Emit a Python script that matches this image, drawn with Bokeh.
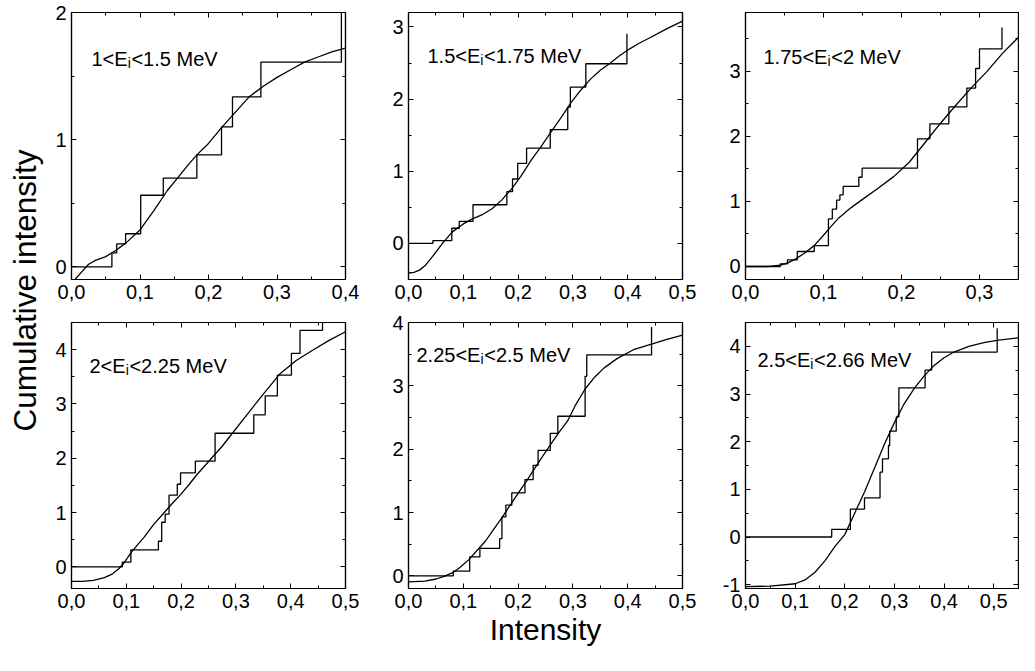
from math import pi
from bokeh.plotting import figure
from bokeh.layouts import row, column
from bokeh.models import (Range1d, SingleIntervalTicker, LinearAxis,
                          CustomJSTickFormatter, Label)
from bokeh.embed import file_html
from bokeh.resources import INLINE

FONT = "Liberation Sans"

# ---------------- data ----------------
titles_main = ["1<E", "1.5<E", "1.75<E", "2<E", "2.25<E", "2.5<E"]
titles_rest = ["<1.5 MeV", "<1.75 MeV", "<2 MeV", "<2.25 MeV", "<2.5 MeV", "<2.66 MeV"]

x_ranges = [(0, 0.4), (0, 0.5), (0, 0.35), (0, 0.5), (0, 0.5), (0, 0.55)]
y_ranges = [(-0.1, 2.0), (-0.5, 3.2), (-0.2, 3.9), (-0.4, 4.5), (-0.2, 4.0), (-1.08, 4.5)]

step1_x = [0, 0.059, 0.066, 0.079, 0.101, 0.134, 0.183, 0.219, 0.235, 0.2765, 0.394]
step1_y = [0, 0.11, 0.18, 0.26, 0.5625, 0.698, 0.88, 1.10, 1.336, 1.61, 2.05]
fit1_x = [0.005, 0.015, 0.025, 0.035, 0.05, 0.065, 0.08, 0.10, 0.12, 0.14, 0.155, 0.17,
          0.183, 0.20, 0.22, 0.24, 0.26, 0.28, 0.30, 0.32, 0.34, 0.36, 0.38, 0.40]
fit1_y = [-0.10, -0.04, 0.02, 0.05, 0.08, 0.13, 0.19, 0.29, 0.44, 0.60, 0.70, 0.80,
          0.88, 0.97, 1.10, 1.22, 1.34, 1.42, 1.49, 1.55, 1.61, 1.65, 1.69, 1.72]

step2_x = [0, 0.0445, 0.079, 0.0925, 0.1177, 0.1795, 0.1898, 0.1993, 0.2155, 0.2587,
           0.2906, 0.2954, 0.3236, 0.3986]
step2_y = [0, 0.04, 0.21, 0.305, 0.536, 0.717, 0.893, 1.11, 1.32, 1.578, 1.889, 2.167,
           2.49, 2.907]
fit2_x = [0, 0.01, 0.02, 0.03, 0.044, 0.062, 0.08, 0.1, 0.1165, 0.135, 0.1525, 0.17,
          0.1885, 0.205, 0.2245, 0.24, 0.2605, 0.28, 0.2965, 0.315, 0.3325, 0.35, 0.3685,
          0.385, 0.4045, 0.42, 0.4405, 0.47, 0.5]
fit2_y = [-0.41, -0.40, -0.37, -0.31, -0.18, 0.0, 0.16, 0.27, 0.34, 0.40, 0.48, 0.60,
          0.76, 0.93, 1.16, 1.32, 1.55, 1.76, 1.95, 2.13, 2.28, 2.40, 2.50, 2.60, 2.70,
          2.77, 2.85, 2.97, 3.08]

step3_x = [0, 0.0446, 0.0538, 0.0664, 0.0882, 0.1063, 0.1113, 0.1168, 0.121, 0.1252,
           0.1453, 0.1495, 0.2205, 0.2364, 0.2607, 0.2838, 0.295, 0.30, 0.3288]
step3_y = [0, 0.04, 0.1, 0.23, 0.32, 0.73, 0.88, 1.02, 1.1, 1.23, 1.37, 1.51, 1.96,
           2.19, 2.45, 2.74, 3.04, 3.34, 3.67]
fit3_x = [0, 0.03, 0.045, 0.055, 0.065, 0.075, 0.088, 0.1, 0.11, 0.12, 0.135, 0.15,
          0.17, 0.19, 0.21, 0.23, 0.25, 0.27, 0.29, 0.31, 0.33, 0.35]
fit3_y = [0, 0, 0.02, 0.06, 0.12, 0.2, 0.32, 0.48, 0.62, 0.75, 0.9, 1.03, 1.2, 1.38,
          1.6, 1.9, 2.2, 2.48, 2.75, 3.0, 3.28, 3.52]

step4_x = [0, 0.0928, 0.1083, 0.1586, 0.1646, 0.171, 0.178, 0.193, 0.199, 0.226, 0.262,
           0.3326, 0.3535, 0.3757, 0.4013, 0.417, 0.4581]
step4_y = [0, 0.085, 0.31, 0.47, 0.82, 0.97, 1.32, 1.52, 1.73, 1.945, 2.46, 2.80, 3.15,
           3.53, 3.93, 4.355, 4.7]
fit4_x = [0, 0.02, 0.04, 0.06, 0.075, 0.0856, 0.095, 0.1094, 0.12, 0.133, 0.15, 0.1693,
          0.185, 0.199, 0.215, 0.229, 0.245, 0.259, 0.275, 0.2889, 0.32, 0.35, 0.38, 0.41,
          0.44, 0.47, 0.5]
fit4_y = [-0.27, -0.27, -0.25, -0.2, -0.13, -0.04, 0.06, 0.27, 0.4, 0.55, 0.78, 1.0,
          1.18, 1.33, 1.52, 1.70, 1.88, 2.04, 2.22, 2.40, 2.8, 3.18, 3.55, 3.8, 3.99,
          4.17, 4.33]

step5_x = [0, 0.0817, 0.1117, 0.1303, 0.1663, 0.1705, 0.1777, 0.1885, 0.2125, 0.2275,
           0.2365, 0.2587, 0.2725, 0.3223, 0.3253, 0.4435]
step5_y = [0, 0.073, 0.298, 0.434, 0.586, 0.93, 1.115, 1.31, 1.52, 1.745, 1.98, 2.25,
           2.52, 3.15, 3.49, 3.93]
fit5_x = [0, 0.03, 0.0505, 0.065, 0.0806, 0.095, 0.1106, 0.125, 0.1406, 0.155, 0.1706,
          0.185, 0.2006, 0.215, 0.2306, 0.245, 0.2606, 0.275, 0.2906, 0.305, 0.3223,
          0.34, 0.3565, 0.3805, 0.4105, 0.4435, 0.47, 0.5]
fit5_y = [-0.094, -0.085, -0.05, -0.01, 0.05, 0.14, 0.26, 0.4, 0.55, 0.73, 0.92, 1.11,
          1.31, 1.49, 1.70, 1.89, 2.09, 2.27, 2.45, 2.70, 2.95, 3.14, 3.28, 3.43, 3.57,
          3.66, 3.73, 3.80]

step6_x = [0, 0.1737, 0.2113, 0.2397, 0.271, 0.276, 0.288, 0.2905, 0.3037, 0.309,
           0.3618, 0.375, 0.5071]
step6_y = [0, 0.16, 0.587, 0.82, 1.36, 1.64, 1.92, 2.22, 2.52, 3.13, 3.5, 3.88, 4.38]
fit6_x = [0, 0.05, 0.1, 0.12, 0.14, 0.16, 0.18, 0.2, 0.22, 0.24, 0.26, 0.28, 0.3, 0.32,
          0.34, 0.36, 0.38, 0.40, 0.42, 0.45, 0.48, 0.51, 0.55]
fit6_y = [-1.04, -1.03, -0.98, -0.9, -0.74, -0.5, -0.2, 0.05, 0.5, 0.95, 1.45, 1.95,
          2.4, 2.8, 3.12, 3.38, 3.6, 3.76, 3.88, 4.0, 4.08, 4.13, 4.18]

steps = [(step1_x, step1_y), (step2_x, step2_y), (step3_x, step3_y),
         (step4_x, step4_y), (step5_x, step5_y), (step6_x, step6_y)]
fits = [(fit1_x, fit1_y), (fit2_x, fit2_y), (fit3_x, fit3_y),
        (fit4_x, fit4_y), (fit5_x, fit5_y), (fit6_x, fit6_y)]

# ---------------- styling helpers ----------------
CW = {'0': .556, '1': .556, '2': .556, '3': .556, '4': .556, '5': .556, '6': .556,
      '7': .556, '8': .556, '9': .556, '.': .278, '<': .584, 'E': .667, ' ': .278,
      'M': .833, 'e': .556, 'V': .667, 'i': .222}


def tw(s, size):
    return sum(CW.get(c, 0.556) for c in s) * size


FS = 20
# (dx, dy) of text baseline-left from frame top-left, in px
text_pos = [(20, 46), (19, 43), (18, 44), (18, 43), (8, 32), (12, 37)]

comma_fmt = CustomJSTickFormatter(code="return tick.toFixed(1).replace('.', ',');")
int_fmt = CustomJSTickFormatter(code="return tick.toFixed(0);")
blank_fmt = CustomJSTickFormatter(code="return '';")


def style_axis(ax, show):
    ax.axis_line_color = "black"
    ax.axis_line_width = 1.2
    ax.major_tick_in = 5
    ax.major_tick_out = 0
    ax.minor_tick_in = 3
    ax.minor_tick_out = 0
    ax.major_tick_line_color = "black"
    ax.minor_tick_line_color = "black"
    ax.major_tick_line_width = 1
    ax.minor_tick_line_width = 1
    if show:
        ax.major_label_text_font = FONT
        ax.major_label_text_font_size = f"{FS}px"
        ax.major_label_text_color = "black"
        ax.major_label_standoff = 5
    else:
        ax.major_label_text_font_size = "0px"
        ax.major_label_standoff = 0


def make_panel(i, fw, fh, bl, br, bt, bb):
    xr, yr = x_ranges[i], y_ranges[i]
    p = figure(width=bl + fw + br, height=bt + fh + bb,
               x_range=Range1d(*xr), y_range=Range1d(*yr),
               x_axis_type=None, y_axis_type=None, toolbar_location=None,
               output_backend="svg", min_border_left=bl, min_border_right=br,
               min_border_top=bt, min_border_bottom=bb)
    p.outline_line_color = "black"
    p.outline_line_width = 1.2
    p.background_fill_color = "white"
    p.border_fill_color = "white"
    for loc in ["below", "above"]:
        ax = LinearAxis(ticker=SingleIntervalTicker(interval=0.1, num_minor_ticks=2),
                        formatter=comma_fmt if loc == "below" else blank_fmt)
        style_axis(ax, loc == "below")
        p.add_layout(ax, loc)
    for loc in ["left", "right"]:
        ax = LinearAxis(ticker=SingleIntervalTicker(interval=1, num_minor_ticks=2),
                        formatter=int_fmt if loc == "left" else blank_fmt)
        style_axis(ax, loc == "left")
        p.add_layout(ax, loc)

    sx, sy = steps[i]
    p.step(sx, sy, mode="after", line_color="black", line_width=1.3)
    fx, fy = fits[i]
    p.line(fx, fy, line_color="black", line_width=1.3)

    dx, dy = text_pos[i]
    tx = xr[0] + dx / fw * (xr[1] - xr[0])
    ty = yr[1] - dy / fh * (yr[1] - yr[0])
    main = titles_main[i]
    w1 = tw(main, FS)
    common = dict(text_font=FONT, text_color="black", text_baseline="alphabetic",
                  text_align="left")
    p.add_layout(Label(x=tx, y=ty, text=main, text_font_size=f"{FS}px", **common))
    p.add_layout(Label(x=tx, y=ty, x_offset=w1, y_offset=-4, text="i",
                       text_font_size="14px", **common))
    p.add_layout(Label(x=tx, y=ty, x_offset=w1 + 3.8, text=titles_rest[i],
                       text_font_size=f"{FS}px", **common))
    return p


TOTAL_H = 655
# per column: (left border, frame width, right border)
cols = [(27, 274, 23), (40, 274, 23), (40, 273, 1)]
# per row: (top border, frame height, bottom border)
rows_b = [(12, 267, 31), (12, 266, 67)]

panels = []
for r in range(2):
    bt, fh, bb = rows_b[r]
    rp = []
    for c in range(3):
        bl, fw, br = cols[c]
        rp.append(make_panel(r * 3 + c, fw, fh, bl, br, bt, bb))
    panels.append(rp)

p5 = panels[1][1]
xb = p5.below[0]
xb.axis_label = "Intensity"
xb.axis_label_text_font = FONT
xb.axis_label_text_font_size = "30px"
xb.axis_label_text_font_style = "normal"
xb.axis_label_text_color = "black"
xb.axis_label_standoff = 2

# left label figure
LW = 44
lab = figure(width=LW, height=TOTAL_H, x_range=Range1d(0, LW), y_range=Range1d(0, TOTAL_H),
             x_axis_type=None, y_axis_type=None, toolbar_location=None,
             output_backend="svg", min_border=0)
lab.outline_line_color = None
lab.border_fill_color = "white"
lab.add_layout(Label(x=24, y=TOTAL_H - 290, text="Cumulative intensity", angle=pi / 2,
                     text_align="center", text_baseline="middle", text_font=FONT,
                     text_font_size="31.5px", text_color="black"))

layout = row(lab, column(row(*panels[0]), row(*panels[1])))

open("out.html", "w").write(file_html(layout, INLINE))
